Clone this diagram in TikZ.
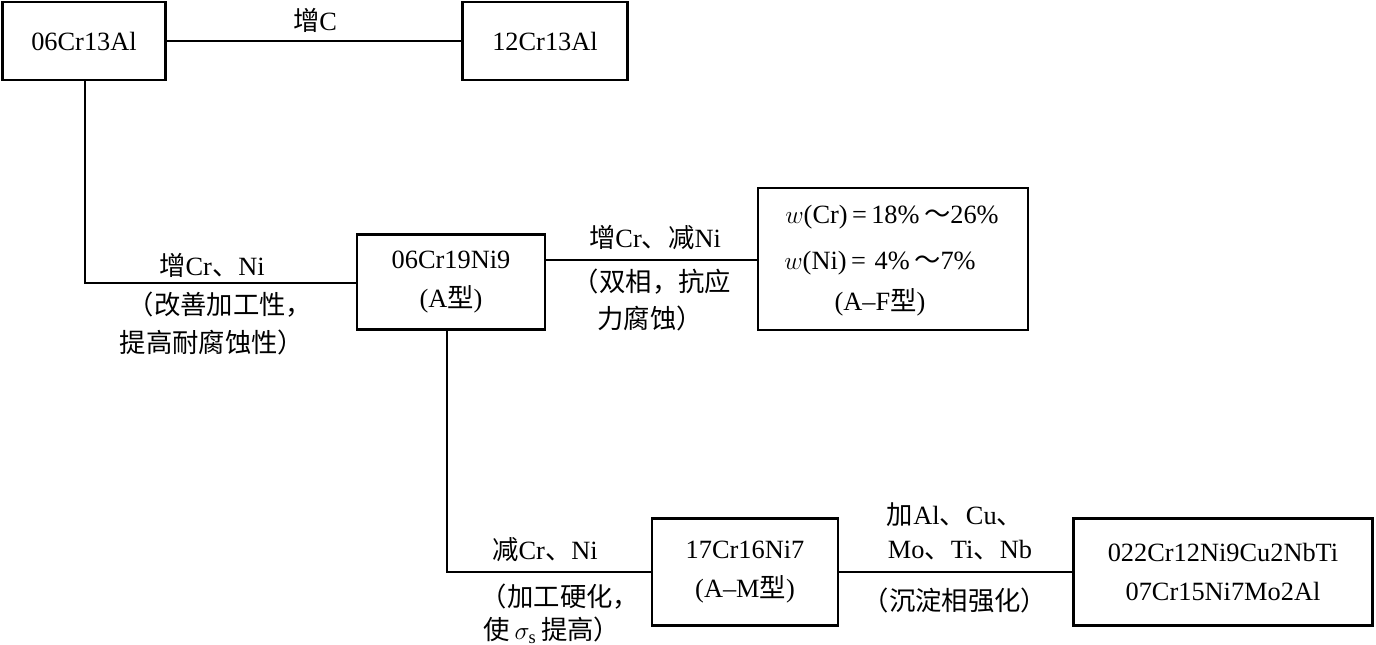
\documentclass[tikz,border=0pt]{standalone}
\usepackage{fontspec}
\setmainfont{Liberation Serif}
\newfontfamily\cjk{Noto Sans CJK SC}
\newcommand{\zh}[1]{{\cjk #1}}
\begin{document}
\begin{tikzpicture}[x=0.02cm, y=-0.02cm,
    every node/.style={font=\fontsize{15}{22}\selectfont},
    box/.style={draw, line width=1.3pt, align=center, inner sep=0pt},
    lbl/.style={align=center, inner sep=1pt}]
    \useasboundingbox (0,0) rectangle (1376,645);
    % Boxes
    \node[box, minimum width=163*0.02cm, minimum height=78*0.02cm] (a) at (84,41) {06Cr13Al};
    \node[box, minimum width=165*0.02cm, minimum height=78*0.02cm] (b) at (545,41) {12Cr13Al};
    \node[box, minimum width=188*0.02cm, minimum height=95*0.02cm] (c) at (451,282) {06Cr19Ni9\\(A\zh{型})};
    \node[box, minimum width=270*0.02cm, minimum height=142*0.02cm] (d) at (893,259) {};
    \node (d1) at (892,217) {$w$(Cr)\,=\,18\%\,\zh{～}26\%};
    \node (d2) at (880,263) {$w$(Ni)\,=\,\,4\%\,\zh{～}7\%};
    \node (d3) at (880,302) {(A\textendash F\zh{型})};
    \node[box, minimum width=186*0.02cm, minimum height=107*0.02cm] (e) at (745,572) {17Cr16Ni7\\(A\textendash M\zh{型})};
    \node[box, minimum width=299*0.02cm, minimum height=107*0.02cm] (f) at (1223,572) {022Cr12Ni9Cu2NbTi\\07Cr15Ni7Mo2Al};

    % Connectors
    \coordinate (k1) at (85,283);
    \coordinate (k2) at (447,572);
    \draw[line width=0.8pt] (a) -- (b);
    \draw[line width=0.8pt] (a.south -| k1) -- (k1) -- (c.west |- k1);
    \draw[line width=0.8pt] (c.east |- 0,260) -- (d.west |- 0,260);
    \draw[line width=0.8pt] (c.south -| k2) -- (k2) -- (e.west |- k2);
    \draw[line width=0.8pt] (e) -- (f);

    % Labels
    \node[lbl] (l1) at (315,20) {\zh{增}C};
    \node[lbl] (l2) at (212,265) {\zh{增}Cr\zh{、}Ni};
    \node[lbl] (l3) at (220,305) {\zh{（改善加工性，}};
    \node[lbl] (l4) at (212,342) {\zh{提高耐腐蚀性）}};
    \node[lbl] (l5) at (655,238) {\zh{增}Cr\zh{、减}Ni};
    \node[lbl] (l6) at (652,282) {\zh{（双相，抗应}};
    \node[lbl] (l7) at (650,318) {\zh{力腐蚀）}};
    \node[lbl] (l8) at (545,550) {\zh{减}Cr\zh{、}Ni};
    \node[lbl] (l9) at (560,597) {\zh{（加工硬化，}};
    \node[lbl] (l10) at (552,630) {\zh{使}\,$\sigma_{\mathrm{s}}$\,\zh{提高）}};
    \node[lbl] (l11) at (955,515) {\zh{加}Al\zh{、}Cu\zh{、}};
    \node[lbl] (l12) at (960,550) {Mo\zh{、}Ti\zh{、}Nb};
    \node[lbl] (l13) at (955,600) {\zh{（沉淀相强化）}};
\end{tikzpicture}
\end{document}
